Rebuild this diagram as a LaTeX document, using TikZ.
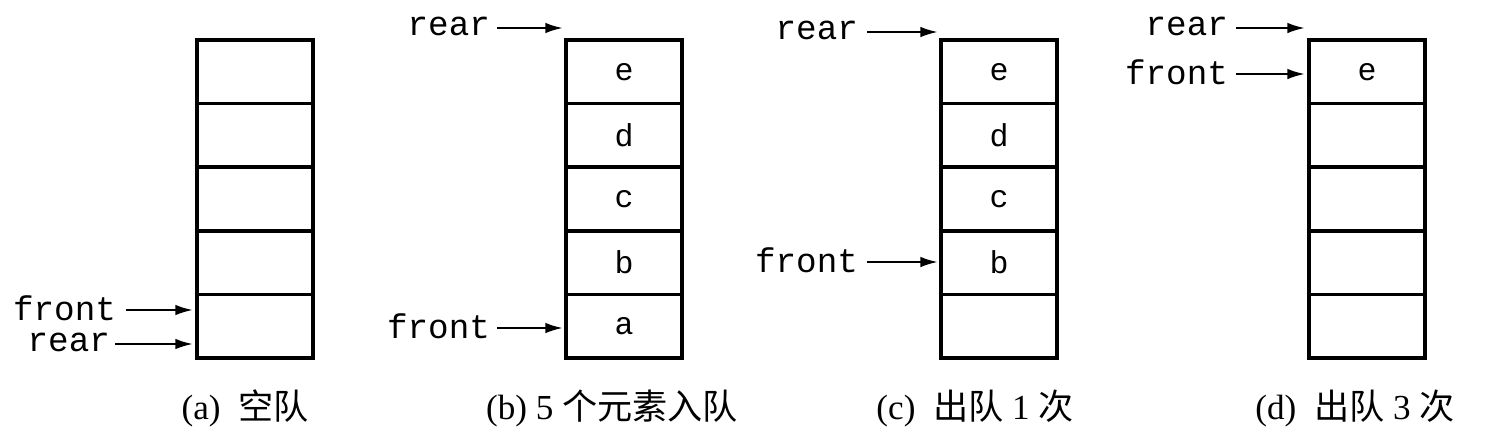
\documentclass[tikz,border=0pt]{standalone}
\usepackage{fontspec}
\setmainfont{Liberation Serif}
\setmonofont{Liberation Mono}
\newfontfamily\cjk{Noto Sans CJK SC}
\usetikzlibrary{arrows.meta,positioning}
\tikzset{
  cell/.style={draw, line width=2pt, minimum width=2.32cm, minimum height=1.272cm, inner sep=0pt, font=\ttfamily\fontsize{18}{18}\selectfont},
  ptr/.style={anchor=east, inner sep=1pt, font=\ttfamily\fontsize{19.5}{19.5}\selectfont},
  pto/.style={-{Latex[length=10pt,width=6pt]}, line width=1.3pt},
  caption/.style={font=\fontsize{20}{22}\selectfont}
}
\begin{document}
\begin{tikzpicture}[x=0.02cm, y=-0.02cm]
\useasboundingbox (0,0) rectangle (1494,440);

% queue columns
\foreach \q/\x/\items in {a/255/{,,,,}, b/624/{e,d,c,b,a}, c/999/{e,d,c,b,}, d/1367/{e,,,,}}{
  \foreach \t [count=\i] in \items {
    \node[cell] (\q\i) at (\x, {40+63.6*(\i-0.5)}) {\t};
  }
}

% (a) empty queue
\node[ptr] (afront) at (118,308) {front};
\coordinate (afrontend) at (193,310);
\node[ptr] (arear) at (112,342) {rear};
\coordinate (arearend) at (193,344);
\draw[pto] (afront.east |- afrontend) ++(8,0) -- (afrontend);
\draw[pto] (arear.east |- arearend) ++(3,0) -- (arearend);

% (b) five elements
\node[ptr] (brear) at (492,26) {rear};
\coordinate (brearend) at (563,28);
\node[ptr] (bfront) at (492,326) {front};
\coordinate (bfrontend) at (563,328);
\draw[pto] (brear.east |- brearend) ++(5,0) -- (brearend);
\draw[pto] (bfront.east |- bfrontend) ++(5,0) -- (bfrontend);

% (c) dequeue once
\node[ptr] (crear) at (860,30) {rear};
\coordinate (crearend) at (938,32);
\node[ptr] (cfront) at (860,260) {front};
\coordinate (cfrontend) at (938,262);
\draw[pto] (crear.east |- crearend) ++(7,0) -- (crearend);
\draw[pto] (cfront.east |- cfrontend) ++(7,0) -- (cfrontend);

% (d) dequeue three times
\node[ptr] (drear) at (1230,26) {rear};
\coordinate (drearend) at (1305,28);
\node[ptr] (dfront) at (1230,72) {front};
\coordinate (dfrontend) at (1305,74);
\draw[pto] (drear.east |- drearend) ++(6,0) -- (drearend);
\draw[pto] (dfront.east |- dfrontend) ++(6,0) -- (dfrontend);

% captions
\node[caption] (acap) at (245,408) {(a)\ \ {\cjk 空队}};
\node[caption] (bcap) at (612,408) {(b) 5 {\cjk 个元素入队}};
\node[caption] (ccap) at (975,408) {(c)\ \ {\cjk 出队} 1 {\cjk 次}};
\node[caption] (dcap) at (1355,408) {(d)\ \ {\cjk 出队} 3 {\cjk 次}};
\end{tikzpicture}
\end{document}
